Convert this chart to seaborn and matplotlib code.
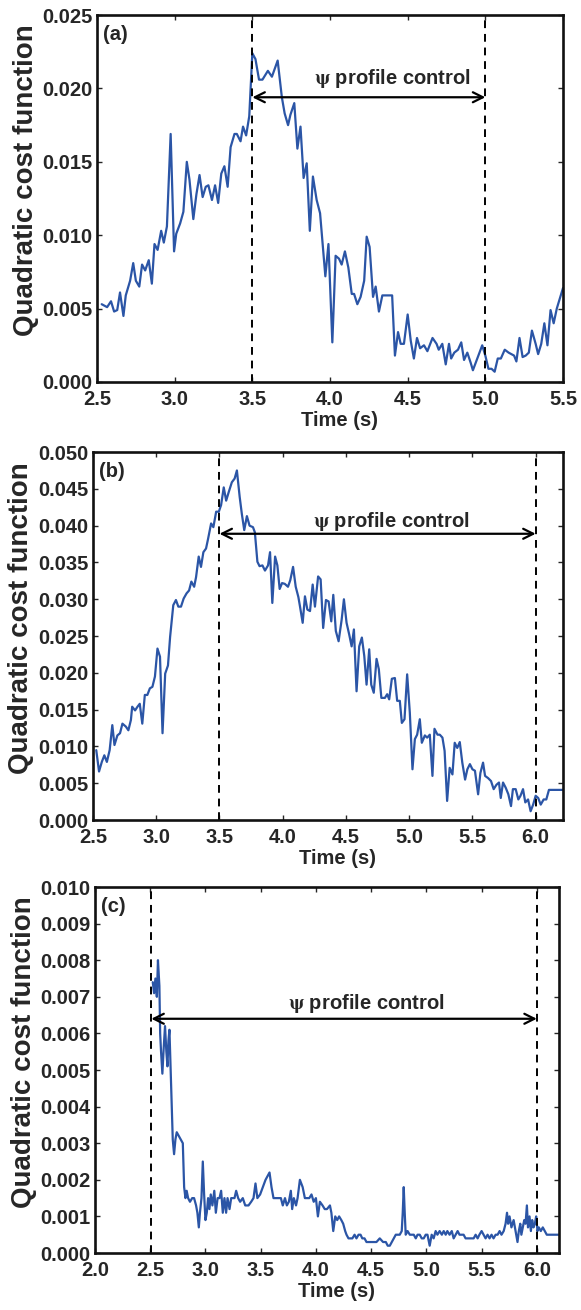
"""Quadratic cost function during psi profile control, three shots."""

import matplotlib
matplotlib.use("Agg")
import matplotlib.pyplot as plt
from matplotlib.ticker import FormatStrFormatter, MultipleLocator
import pandas as pd
import seaborn as sns

# ---- data ----
a_time = [2.53, 2.565, 2.59, 2.61, 2.63, 2.648, 2.67, 2.685, 2.713, 2.733, 2.75, 2.772, 2.79, 2.81,
          2.833, 2.853, 2.87, 2.89, 2.913, 2.93, 2.95, 2.974, 2.996, 3.01, 3.035, 3.056, 3.078, 3.095,
          3.12, 3.14, 3.16, 3.18, 3.2, 3.217, 3.24, 3.26, 3.28, 3.3, 3.32, 3.341, 3.36, 3.385, 3.4,
          3.424, 3.44, 3.46, 3.48, 3.5, 3.52, 3.543, 3.565, 3.6, 3.626, 3.663, 3.69, 3.708, 3.73,
          3.745, 3.77, 3.79, 3.81, 3.83, 3.85, 3.87, 3.89, 3.914, 3.936, 3.957, 3.97, 3.99, 4.015,
          4.036, 4.058, 4.075, 4.096, 4.118, 4.14, 4.155, 4.176, 4.197, 4.22, 4.236, 4.255, 4.277,
          4.294, 4.315, 4.337, 4.4, 4.418, 4.438, 4.455, 4.476, 4.5, 4.52, 4.54, 4.56, 4.58, 4.605,
          4.627, 4.66, 4.686, 4.70, 4.723, 4.745, 4.766, 4.78, 4.80, 4.824, 4.845, 4.863, 4.884,
          4.906, 4.92, 4.948, 4.98, 5.0, 5.02, 5.04, 5.06, 5.08, 5.1, 5.125, 5.15, 5.185, 5.2, 5.22,
          5.24, 5.26, 5.28, 5.30, 5.324, 5.34, 5.36, 5.38, 5.40, 5.42, 5.44, 5.46, 5.5]
a_cost = [0.0053, 0.0051, 0.0055, 0.0048, 0.0049, 0.0061, 0.0045, 0.0059, 0.0069, 0.0081, 0.0069,
          0.0065, 0.0080, 0.0076, 0.0083, 0.0067, 0.0094, 0.0090, 0.0103, 0.0095, 0.0106, 0.0169,
          0.0089, 0.0101, 0.0108, 0.0116, 0.0150, 0.0138, 0.0111, 0.0128, 0.0141, 0.0126, 0.0133,
          0.0134, 0.0124, 0.0134, 0.0122, 0.0142, 0.0147, 0.0133, 0.0160, 0.0169, 0.0169, 0.0164,
          0.0174, 0.0168, 0.0181, 0.0224, 0.0220, 0.0206, 0.0206, 0.0212, 0.0208, 0.0219, 0.0194,
          0.0183, 0.0175, 0.0182, 0.0190, 0.0159, 0.0174, 0.0139, 0.0149, 0.0103, 0.0140, 0.0124,
          0.0115, 0.0088, 0.0072, 0.0094, 0.0027, 0.0086, 0.0084, 0.0080, 0.0089, 0.0078, 0.0060,
          0.0060, 0.0053, 0.0058, 0.0069, 0.0099, 0.0092, 0.0058, 0.0065, 0.0048, 0.0059, 0.0059,
          0.0018, 0.0034, 0.0026, 0.0026, 0.0046, 0.0028, 0.0016, 0.0030, 0.0023, 0.0025, 0.0021,
          0.0030, 0.0026, 0.0022, 0.0026, 0.0012, 0.0026, 0.0016, 0.0020, 0.0022, 0.0027, 0.0015,
          0.0020, 0.0013, 0.0008, 0.0016, 0.0025, 0.0018, 0.0009, 0.0009, 0.0007, 0.0016, 0.0016,
          0.0022, 0.0020, 0.0018, 0.0014, 0.0030, 0.0017, 0.0018, 0.0020, 0.0035, 0.0026, 0.0019,
          0.0026, 0.0040, 0.0025, 0.0049, 0.0040, 0.0050, 0.0064]

b_time = [2.526, 2.548, 2.57, 2.59, 2.61, 2.632, 2.653, 2.67, 2.693, 2.714, 2.733, 2.76, 2.78, 2.80,
          2.81, 2.833, 2.852, 2.87, 2.89, 2.91, 2.93, 2.95, 2.97, 2.99, 3.01, 3.03, 3.05, 3.071,
          3.093, 3.11, 3.135, 3.156, 3.175, 3.196, 3.217, 3.24, 3.26, 3.278, 3.30, 3.315, 3.336,
          3.354, 3.373, 3.394, 3.41, 3.434, 3.452, 3.474, 3.495, 3.513, 3.534, 3.553, 3.574, 3.598,
          3.62, 3.638, 3.66, 3.677, 3.696, 3.717, 3.738, 3.765, 3.78, 3.80, 3.817, 3.84, 3.86, 3.884,
          3.90, 3.918, 3.94, 3.958, 3.976, 3.995, 4.016, 4.042, 4.06, 4.082, 4.103, 4.124,
          4.137, 4.158, 4.176, 4.195, 4.216, 4.237, 4.255, 4.28, 4.30, 4.32, 4.342, 4.363, 4.384,
          4.40, 4.42, 4.442, 4.466, 4.484, 4.505, 4.526, 4.545, 4.563, 4.584, 4.605, 4.626, 4.645,
          4.663, 4.684, 4.70, 4.72, 4.742, 4.76, 4.78, 4.808, 4.826, 4.842, 4.863, 4.887, 4.905,
          4.926, 4.942, 4.963, 4.984, 5.005, 5.026, 5.045, 5.063, 5.084, 5.10, 5.124, 5.142, 5.163,
          5.184, 5.20, 5.224, 5.242, 5.263, 5.28, 5.30, 5.32, 5.342, 5.36, 5.38, 5.40, 5.42, 5.442,
          5.46, 5.48, 5.50, 5.52, 5.545, 5.563, 5.584, 5.60, 5.624, 5.647, 5.668, 5.69, 5.71, 5.724,
          5.742, 5.763, 5.784, 5.805, 5.82, 5.842, 5.863, 5.88, 5.90, 5.918, 5.94, 5.96, 5.98, 6.0,
          6.02, 6.04, 6.063, 6.084, 6.105, 6.216]
b_cost = [0.0095, 0.0066, 0.0079, 0.0088, 0.0079, 0.0095, 0.0129, 0.0102, 0.0115, 0.0118, 0.0131,
          0.0127, 0.0122, 0.0136, 0.0154, 0.0149, 0.0154, 0.0158, 0.0131, 0.0170, 0.0170, 0.0179,
          0.0181, 0.0195, 0.0233, 0.0222, 0.0118, 0.0199, 0.0210, 0.0249, 0.0292, 0.0299, 0.0290,
          0.0290, 0.0301, 0.0308, 0.0312, 0.0324, 0.0317, 0.0330, 0.0358, 0.0344, 0.0364, 0.0369,
          0.0382, 0.0403, 0.0398, 0.0419, 0.0419, 0.0428, 0.0452, 0.0434, 0.0446, 0.0459, 0.0464,
          0.0475, 0.0439, 0.0416, 0.0394, 0.0413, 0.0400, 0.0398, 0.0391, 0.0351, 0.0345, 0.0346,
          0.0339, 0.0346, 0.0364, 0.0295, 0.0358, 0.0346, 0.0314, 0.0322, 0.0321, 0.0317, 0.0326,
          0.0344, 0.0317, 0.0303,
          0.0290, 0.0268, 0.0304, 0.0286, 0.0284, 0.0320, 0.0290, 0.0331, 0.0327, 0.0261, 0.0299,
          0.0297, 0.0270, 0.0306, 0.0257, 0.0243, 0.0272, 0.0300, 0.0268, 0.0252, 0.0236, 0.0259,
          0.0175, 0.0236, 0.0248, 0.0223, 0.0184, 0.0232, 0.0184, 0.0173, 0.0219, 0.0205, 0.0166,
          0.0166, 0.0171, 0.0164, 0.0192, 0.0193, 0.0162, 0.0162, 0.0132, 0.0137, 0.0198, 0.0146,
          0.0069, 0.0110, 0.0116, 0.0137, 0.0105, 0.0115, 0.0112, 0.0116, 0.0060, 0.0124, 0.0116,
          0.0116, 0.0112, 0.0094, 0.0026, 0.0071, 0.0062, 0.0105, 0.0098, 0.0106, 0.0078, 0.0055,
          0.0069, 0.0076, 0.0069, 0.0067, 0.0035, 0.0064, 0.0078, 0.0060, 0.0057, 0.0053, 0.0042,
          0.0048, 0.0051, 0.0030, 0.0051, 0.0044, 0.0035, 0.0019, 0.0042, 0.0042, 0.0028, 0.0033,
          0.0042, 0.0024, 0.0028, 0.0012, 0.0021, 0.0033, 0.0030, 0.0021, 0.0028, 0.0028, 0.0041,
          0.0041]

c_time = [2.523, 2.535, 2.547, 2.56, 2.57, 2.583, 2.59, 2.598, 2.61, 2.622, 2.634, 2.646, 2.656,
          2.665, 2.674, 2.683, 2.69, 2.704, 2.716, 2.728, 2.74, 2.758, 2.776, 2.795, 2.807, 2.819,
          2.83, 2.843, 2.86, 2.88, 2.897, 2.915, 2.927, 2.94, 2.95, 2.964, 2.976, 2.988, 3.0, 3.012,
          3.024, 3.036, 3.048, 3.063, 3.08, 3.094, 3.11, 3.127, 3.142, 3.157, 3.172, 3.187, 3.2,
          3.218, 3.233, 3.248, 3.263, 3.278, 3.296, 3.314, 3.338, 3.36, 3.39, 3.414, 3.435, 3.453,
          3.47, 3.495, 3.52, 3.544, 3.562, 3.58, 3.598, 3.616, 3.64, 3.665, 3.683, 3.70, 3.72, 3.737,
          3.755, 3.773, 3.785, 3.80, 3.82, 3.834,
          3.855, 3.88, 3.9, 3.92, 3.94, 3.96, 3.98, 4.0, 4.018, 4.036, 4.06, 4.08, 4.10, 4.127, 4.14,
          4.157, 4.175, 4.193, 4.21, 4.23, 4.247, 4.265, 4.277, 4.295, 4.313, 4.33, 4.35, 4.367,
          4.386, 4.404, 4.42, 4.44, 4.458, 4.488, 4.518, 4.548, 4.578, 4.608, 4.633, 4.65, 4.669,
          4.687, 4.705, 4.723, 4.741, 4.759, 4.777, 4.786, 4.795, 4.804, 4.813, 4.83, 4.85, 4.868,
          4.886, 4.904, 4.92, 4.94, 4.958, 4.976, 4.994, 5.01, 5.03, 5.048, 5.066, 5.084, 5.10, 5.12,
          5.14, 5.157, 5.175, 5.19, 5.21, 5.23, 5.247, 5.265, 5.283, 5.30, 5.32, 5.337, 5.355,
          5.373, 5.39, 5.41, 5.428, 5.446, 5.464, 5.48, 5.5, 5.518, 5.536, 5.554, 5.572, 5.59, 5.608,
          5.627, 5.645, 5.663, 5.68, 5.7, 5.717, 5.73, 5.74, 5.753, 5.77, 5.79, 5.807, 5.825, 5.837,
          5.85, 5.86, 5.873, 5.886, 5.898, 5.91, 5.92, 5.934, 5.946, 5.958, 5.97, 5.982, 5.994,
          6.006, 6.018, 6.036, 6.054, 6.072, 6.09, 6.2]
c_cost = [0.0074, 0.0071, 0.0075, 0.0070, 0.0080, 0.0073, 0.0060, 0.0055, 0.0049, 0.0056, 0.0062,
          0.0055, 0.0051, 0.0058, 0.0061, 0.0052, 0.0044, 0.0031, 0.0027, 0.0031, 0.0033, 0.0032,
          0.0031, 0.0030, 0.0018, 0.0015, 0.0017, 0.0015, 0.0014, 0.0015, 0.0015, 0.0013, 0.0011,
          0.0007, 0.0011, 0.0015, 0.0025, 0.0016, 0.0009, 0.0011, 0.0015, 0.0012, 0.0016, 0.0013,
          0.0017, 0.0011, 0.0015, 0.0015, 0.0017, 0.0011, 0.0015, 0.0011, 0.0015, 0.0012, 0.0015,
          0.0015, 0.0015, 0.0017, 0.0015, 0.0014, 0.0015, 0.0013, 0.0013, 0.0014, 0.0015, 0.0019,
          0.0015, 0.0016, 0.0018, 0.0020, 0.0021, 0.0022, 0.0018, 0.0015, 0.0015, 0.0015, 0.0015,
          0.0013, 0.0015, 0.0013, 0.0014, 0.0017, 0.0012, 0.0015, 0.0013, 0.0015,
          0.0020, 0.0018, 0.0015, 0.0015, 0.0015, 0.0016, 0.0014, 0.0015, 0.0010, 0.0014, 0.0013,
          0.0012, 0.0012, 0.0013, 0.0011, 0.0006, 0.0010, 0.0009, 0.0010, 0.0009, 0.0008, 0.0006,
          0.0005, 0.0004, 0.0004, 0.0004, 0.0005, 0.0004, 0.0005, 0.0005, 0.0004, 0.0004, 0.0003,
          0.0003, 0.0003, 0.0003, 0.0004, 0.0003, 0.0003, 0.0002, 0.0002, 0.0003, 0.0004, 0.0005,
          0.0005, 0.0005, 0.0006, 0.0011, 0.0018, 0.0011, 0.0005, 0.0006, 0.0005, 0.0005, 0.0005,
          0.0004, 0.0005, 0.0005, 0.0004, 0.0004, 0.0005, 0.0005, 0.0002, 0.0005, 0.0004, 0.0006,
          0.0005, 0.0006, 0.0005, 0.0006, 0.0005, 0.0006, 0.0005, 0.0006, 0.0004, 0.0005, 0.0006,
          0.0005, 0.0005, 0.0005, 0.0004, 0.0004, 0.0004, 0.0004, 0.0004, 0.0005, 0.0004, 0.0005,
          0.0006, 0.0005, 0.0004, 0.0005, 0.0004, 0.0005, 0.0004, 0.0005, 0.0005, 0.0006, 0.0005,
          0.0006, 0.0008, 0.0011, 0.0008, 0.0010, 0.0007, 0.0009, 0.0006, 0.0003, 0.0006, 0.0008,
          0.0005, 0.0007, 0.0009, 0.0008, 0.0013, 0.0007, 0.0010, 0.0006, 0.0009, 0.0007, 0.0008,
          0.0010, 0.0006, 0.0007, 0.0006, 0.0007, 0.0006, 0.0005, 0.0005]

panel_labels = ["(a)", "(b)", "(c)"]
control_windows = [(3.5, 5.0), (3.5, 6.0), (2.51, 6.0)]
arrow_levels = [0.0194, 0.0389, 0.0064]
text_spots = [(4.40, 0.0207), (4.86, 0.0406), (4.46, 0.00683)]
x_limits = [(2.5, 5.5), (2.5, 6.216), (2.0, 6.2)]
y_limits = [(0.0, 0.025), (0.0, 0.05), (0.0, 0.010)]
y_steps = [0.005, 0.005, 0.001]

# axes boxes in figure fractions (left, bottom, width, height)
boxes = [(0.167, 0.7084, 0.802, 0.2801),
         (0.160, 0.3740, 0.809, 0.2809),
         (0.1635, 0.0435, 0.7985, 0.2794)]

sns.set_style("ticks")
plt.rcParams["font.family"] = ["Liberation Sans", "DejaVu Sans"]
plt.rcParams["font.weight"] = "bold"
plt.rcParams["mathtext.fontset"] = "stix"

line_color = "#2b55a6"
fig = plt.figure(figsize=(5.81, 13.10), dpi=100)

series = [(a_time, a_cost), (b_time, b_cost), (c_time, c_cost)]
for i, (t, v) in enumerate(series):
    ax = fig.add_axes(boxes[i])
    df = pd.DataFrame({"time": t, "cost": v})
    sns.lineplot(data=df, x="time", y="cost", ax=ax, color=line_color,
                 linewidth=1.6, estimator=None, sort=False)

    ax.set_xlim(*x_limits[i])
    ax.set_ylim(*y_limits[i])
    ax.xaxis.set_major_locator(MultipleLocator(0.5))
    ax.yaxis.set_major_locator(MultipleLocator(y_steps[i]))
    ax.xaxis.set_major_formatter(FormatStrFormatter("%.1f"))
    ax.yaxis.set_major_formatter(FormatStrFormatter("%.3f"))
    ax.tick_params(direction="in", length=3.5, width=1.0, top=True, right=True,
                   labelsize=14.5)
    ax.tick_params(axis="x", pad=5.5)
    ax.tick_params(axis="y", pad=3)
    for lab in ax.get_xticklabels() + ax.get_yticklabels():
        lab.set_fontweight("bold")
    for sp in ax.spines.values():
        sp.set_visible(True)
        sp.set_linewidth(1.9)
        sp.set_color("#111111")

    ax.set_xlabel("Time (s)", fontsize=14.5, fontweight="bold")
    ax.set_ylabel("Quadratic cost function", fontsize=20, fontweight="bold")
    ax.xaxis.set_label_coords(0.52, -0.08)
    ax.yaxis.set_label_coords(-0.125, 0.55)

    t0, t1 = control_windows[i]
    for tv in (t0, t1):
        ax.axvline(tv, color="black", linestyle=(0, (4, 3)), linewidth=1.4)
    ax.annotate("", xy=(t0, arrow_levels[i]), xytext=(t1, arrow_levels[i]),
                arrowprops=dict(arrowstyle="<->", color="black", lw=1.6,
                                mutation_scale=18, shrinkA=0, shrinkB=0))
    tx, ty = text_spots[i]
    ax.text(tx, ty, r"$\mathrm{\psi}$ profile control", ha="center", va="center",
            fontsize=14.5, fontweight="bold")
    ax.text(0.012, 0.972, panel_labels[i], transform=ax.transAxes, ha="left", va="top",
            fontsize=14.5, fontweight="bold")

fig.savefig("out.png", dpi=100)
